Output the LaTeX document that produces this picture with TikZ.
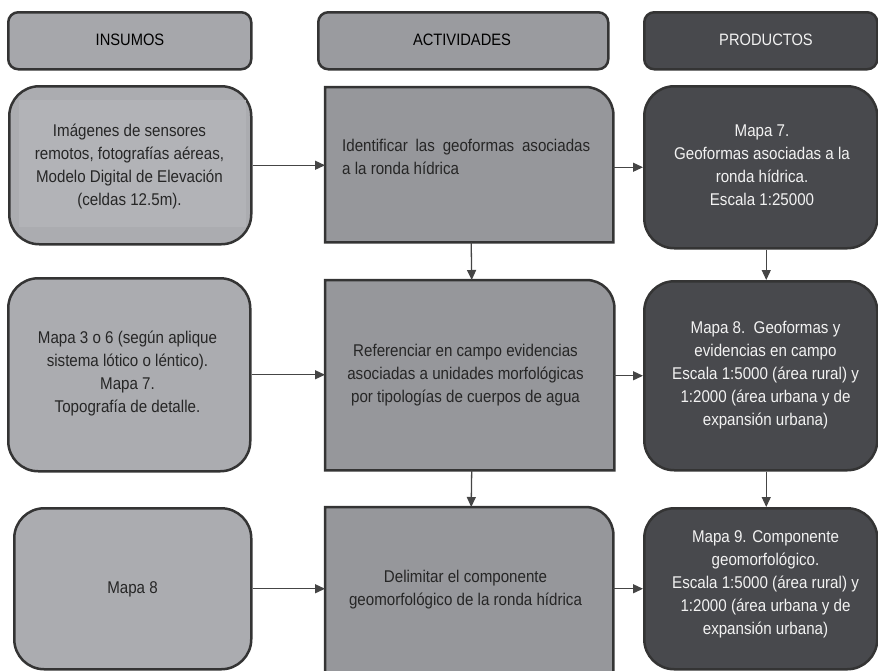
\documentclass[tikz,border=0pt]{standalone}
\usepackage{fontspec}
\setmainfont[FakeStretch=0.89]{Liberation Sans}
\usetikzlibrary{arrows.meta}
\definecolor{bordc}{HTML}{343434}
\definecolor{linec}{HTML}{454545}
\definecolor{insfill}{HTML}{ABACB0}
\definecolor{insinner}{HTML}{B2B3B7}
\definecolor{hdrone}{HTML}{A6A7AB}
\definecolor{hdrtwo}{HTML}{9A9B9F}
\definecolor{actfill}{HTML}{96979B}
\definecolor{prodfill}{HTML}{48494D}
\definecolor{txtdark}{HTML}{262626}
\definecolor{txtlight}{HTML}{F2F2F2}
\begin{document}
\begin{tikzpicture}[x=1pt,y=-1pt,
  every node/.style={font=\fontsize{17}{23}\selectfont},
  boxbase/.style={anchor=north west, inner sep=0pt, line width=2.5pt, draw=bordc},
  hdrbox/.style={boxbase, rounded corners=10pt},
  insbox/.style={boxbase, rounded corners=30pt, fill=insfill},
  prodbox/.style={boxbase, rounded corners=30pt, fill=prodfill},
  actframe/.style={anchor=north west, inner sep=0pt, draw=none},
  actshape/.style={draw=bordc, line width=2.5pt, fill=actfill, line join=miter},
  txt/.style={align=center, text=txtdark, inner sep=0pt},
  ptxt/.style={align=center, text=txtlight, inner sep=0pt},
  htxt/.style={text=black, inner sep=0pt, font=\fontsize{16.5}{20}\selectfont},
  conn/.style={draw=linec, line width=1.3pt, -{Triangle[length=10pt,width=9pt]}}
]
\useasboundingbox (0,0) rectangle (878,670);

% headers
\node[hdrbox, fill=hdrone, minimum width=243pt, minimum height=57pt] (h1) at (7,11) {};
\node[hdrbox, fill=hdrtwo, minimum width=290pt, minimum height=57pt] (h2) at (317,11) {};
\node[hdrbox, fill=prodfill, minimum width=233pt, minimum height=57pt] (h3) at (643,11) {};
\node[htxt] (th1) at (130,40) {INSUMOS};
\node[htxt] (th2) at (462,40) {ACTIVIDADES};
\node[htxt, text=txtlight] (th3) at (766,40) {PRODUCTOS};

% insumos
\node[insbox, minimum width=242pt, minimum height=158pt] (ins1) at (8,85) {};
\fill[insinner] (19,100) rectangle (246,227);
\node[insbox, minimum width=242pt, minimum height=193pt] (ins2) at (7,277) {};
\node[insbox, minimum width=237pt, minimum height=161pt] (ins3) at (13,507) {};

% actividades
\node[actframe, minimum width=288pt, minimum height=155pt] (act1) at (325,87) {};
\node[actframe, minimum width=289pt, minimum height=190pt] (act2) at (325,280) {};
\node[actframe, minimum width=288pt, minimum height=172pt] (act3) at (325,507) {};
\foreach \a in {act1,act2,act3}{
  \draw[actshape] (\a.south west) -- (\a.north west) -- ([xshift=-28pt]\a.north east)
    .. controls ([xshift=-12.5pt]\a.north east) and ([yshift=-12.5pt]\a.north east) ..
    ([yshift=-28pt]\a.north east) -- (\a.south east) -- cycle;
}

% productos
\node[prodbox, minimum width=233pt, minimum height=162pt] (prod1) at (643,85) {};
\node[prodbox, minimum width=233pt, minimum height=189pt] (prod2) at (643,280) {};
\node[prodbox, minimum width=233pt, minimum height=161pt] (prod3) at (643,507) {};

% texts
\node[txt] (tins1) at (129.5,166) {Imágenes de sensores\\remotos, fotografías aéreas,\\Modelo Digital de Elevación\\(celdas 12.5m).};
\node[txt] (tins2) at (127.5,373) {Mapa 3 o 6 (según aplique\\sistema lótico o léntico).\\Mapa 7.\\Topografía de detalle.};
\node[txt] (tins3) at (132.5,589) {Mapa 8};

\node[txt, anchor=west, align=justify, text width=248pt] (tact1) at (342,156.5) {Identificar las geoformas asociadas\linebreak a la ronda hídrica};
\node[txt] (tact2) at (465.5,375) {Referenciar en campo evidencias\\asociadas a unidades morfológicas\\por tipologías de cuerpos de agua};
\node[txt] (tact3) at (465.5,589.5) {Delimitar el componente\\geomorfológico de la ronda hídrica};

\node[ptxt] (tprod1) at (762,165.5) {Mapa 7.\\Geoformas asociadas a la\\ronda hídrica.\\Escala 1:25000};
\node[ptxt] (tprod2) at (765.5,375) {Mapa 8.\ \ Geoformas y\\evidencias en campo\\Escala 1:5000 (área rural) y\\1:2000 (área urbana y de\\expansión urbana)};
\node[ptxt] (tprod3) at (765.5,584) {Mapa 9. Componente\\geomorfológico.\\Escala 1:5000 (área rural) y\\1:2000 (área urbana y de\\expansión urbana)};

% connectors
\draw[conn] (ins1.east) -- (ins1.east -| act1.west);
\draw[conn] (ins2.east) -- (ins2.east -| act2.west);
\draw[conn] (ins3.east) -- (ins3.east -| act3.west);
\draw[conn] (prod1.west -| act1.east) -- (prod1.west);
\draw[conn] (prod2.west -| act2.east) -- (prod2.west);
\draw[conn] (prod3.west -| act3.east) -- (prod3.west);
\draw[conn] ([xshift=2pt]act1.south) -- ([xshift=2pt]act2.north);
\draw[conn] ([xshift=2pt]act2.south) -- ([xshift=2pt]act3.north);
\draw[conn] ([xshift=5.5pt]prod1.south) -- ([xshift=5.5pt]prod2.north);
\draw[conn] ([xshift=5.5pt]prod2.south) -- ([xshift=5.5pt]prod3.north);
\end{tikzpicture}
\end{document}
